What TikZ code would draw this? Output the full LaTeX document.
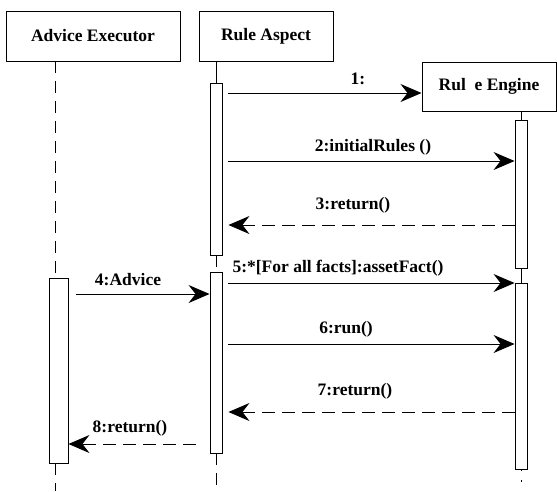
\documentclass[tikz,border=0pt]{standalone}
\usepackage{fontspec}
\setmainfont{Liberation Serif}
\usetikzlibrary{arrows.meta}
\begin{document}
\begin{tikzpicture}[x=1pt,y=-1pt,
  obj/.style={draw, line width=1pt, inner sep=0pt, minimum height=50pt, font=\bfseries\fontsize{17.5}{20}\selectfont},
  bar/.style={draw, line width=0.9pt, fill=white, inner sep=0pt, minimum width=12pt},
  life/.style={line width=0.9pt, dash pattern=on 12pt off 8pt},
  solidlife/.style={line width=0.9pt},
  dotlife/.style={line width=0.9pt, dash pattern=on 2pt off 9pt},
  msg/.style={line width=0.9pt, -{Stealth[length=21pt,width=18pt,inset=7pt]}},
  ret/.style={msg, dash pattern=on 13pt off 7pt},
  lbl/.style={font=\bfseries\fontsize{17.5}{20}\selectfont, inner sep=0pt}]
\useasboundingbox[fill=white] (0,0) rectangle (557,491);

% objects
\node[obj, minimum width=174pt] (ae) at (93,36) {Advice Executor};
\node[obj, minimum width=134pt] (ra) at (266,36) {Rule Aspect};
\node[obj, minimum width=134pt, minimum height=49pt] (re) at (489,86.5) {Rul\ \ e Engine};

% lifeline coordinates
\coordinate (aeTop) at (55,61);
\coordinate (aeBot) at (55,491);
\coordinate (raBot) at (216,491);
\coordinate (reBot) at (521,491);

% activation bars
\node[bar, minimum height=172pt] (ra1) at (216,169) {};
\node[bar, minimum height=181pt] (ra2) at (216,362.5) {};
\node[bar, minimum width=19pt, minimum height=185pt] (ae1) at (58.5,370.5) {};
\node[bar, minimum height=148pt] (re1) at (521,194) {};
\node[bar, minimum height=186pt] (re2) at (521,376) {};

% lifelines
\draw[life] (aeTop) -- (aeTop |- ae1.north);
\draw[life] (aeTop |- ae1.south) -- (aeBot);
\draw[solidlife] (ra.south -| ra1.north) -- (ra1.north);
\draw[life] (ra1.south) -- (ra2.north);
\draw[life] (ra2.south) -- (raBot);
\draw[solidlife] (re.south -| re1.north) -- (re1.north);
\draw[solidlife] (re1.south) -- (re2.north);
\draw[dotlife] (re2.south) -- (reBot);

% message rows
\coordinate (y1) at (0,93);
\coordinate (y2) at (0,161);
\coordinate (y3) at (0,225);
\coordinate (y4) at (0,294);
\coordinate (y5) at (0,283);
\coordinate (y6) at (0,344);
\coordinate (y7) at (0,412);
\coordinate (y8) at (0,444);

% messages
\draw[msg, shorten <=6pt] (ra1.east |- y1) -- (re.west |- y1);
\draw[msg, shorten <=6pt] (ra1.east |- y2) -- (re1.west |- y2);
\draw[ret, shorten >=6pt] (re1.west |- y3) -- (ra1.east |- y3);
\draw[msg, shorten <=8pt] (ae1.east |- y4) -- (ra2.west |- y4);
\draw[msg, shorten <=6pt] (ra2.east |- y5) -- (re2.west |- y5);
\draw[msg, shorten <=6pt] (ra2.east |- y6) -- (re2.west |- y6);
\draw[ret, shorten >=6pt] (re2.west |- y7) -- (ra2.east |- y7);
\draw[ret, shorten <=14pt] (ra2.west |- y8) -- (ae1.east |- y8);

% labels
\node[lbl] (l1) at (358,79) {1:};
\node[lbl] (l2) at (373,147) {2:initialRules ()};
\node[lbl] (l3) at (353,205) {3:return()};
\node[lbl] (l4) at (128,280) {4:Advice};
\node[lbl] (l5) at (338,268) {5:*[For all facts]:assetFact()};
\node[lbl] (l6) at (346,329) {6:run()};
\node[lbl] (l7) at (355,391) {7:return()};
\node[lbl] (l8) at (130,428) {8:return()};
\end{tikzpicture}
\end{document}
